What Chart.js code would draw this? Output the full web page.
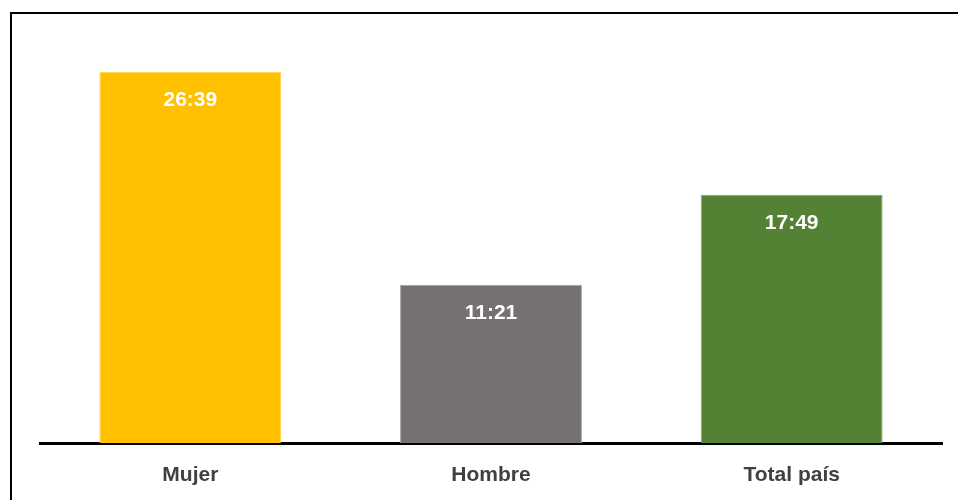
<!DOCTYPE html>
<html>
<head>
<meta charset="utf-8">
<script src="https://cdn.jsdelivr.net/npm/chart.js@4"></script>
<style>
  html, body { margin: 0; padding: 0; background: #fff; overflow: hidden; }
  #wrap { position: relative; width: 958px; height: 500px; }
  #frame { position: absolute; left: 10px; top: 12px; width: 1000px; height: 600px;
           border-left: 2px solid #000; border-top: 2px solid #000; pointer-events: none; }
  canvas { position: absolute; left: 0; top: 0; }
</style>
</head>
<body>
<div id="wrap">
  <canvas id="c" width="958" height="500"></canvas>
  <div id="frame"></div>
</div>
<script>
const categories = ['Mujer', 'Hombre', 'Total país'];
const timeLabels = ['26:39', '11:21', '17:49'];
const barColors = ['#FFC000', '#767171', '#548235'];
const barEdges = ['#FFD34D', '#A6A3A3', '#86A870'];

// convert "hh:mm" to hours
const hours = timeLabels.map(t => { const p = t.split(':'); return Number(p[0]) + Number(p[1]) / 60; });

const FONT = '"Liberation Sans", Arial, sans-serif';

const valueLabels = {
  id: 'valueLabels',
  afterDatasetsDraw(chart) {
    const ctx = chart.ctx;
    const meta = chart.getDatasetMeta(0);
    ctx.save();
    ctx.fillStyle = '#FFFFFF';
    ctx.font = 'bold 21px ' + FONT;
    ctx.textAlign = 'center';
    ctx.textBaseline = 'middle';
    meta.data.forEach((el, i) => {
      ctx.fillText(timeLabels[i], el.x, el.y + 28.5);
    });
    ctx.restore();
  }
};

new Chart(document.getElementById('c'), {
  type: 'bar',
  data: {
    labels: categories,
    datasets: [{
      data: hours,
      backgroundColor: barColors,
      borderColor: barEdges,
      borderWidth: 1,
      categoryPercentage: 1,
      barPercentage: 0.605
    }]
  },
  options: {
    responsive: false,
    animation: false,
    layout: { padding: { left: 40, right: 16, top: 25, bottom: 0 } },
    plugins: { legend: { display: false }, tooltip: { enabled: false } },
    scales: {
      x: {
        grid: { display: false, drawTicks: false },
        border: { display: true, color: '#000', width: 3 },
        ticks: { color: '#404040', font: { family: FONT, size: 21, weight: 'bold' }, padding: 20 },
        afterFit: s => { s.height = 57; }
      },
      y: {
        display: false,
        min: 0,
        max: 30
      }
    }
  },
  plugins: [valueLabels]
});
</script>
</body>
</html>
